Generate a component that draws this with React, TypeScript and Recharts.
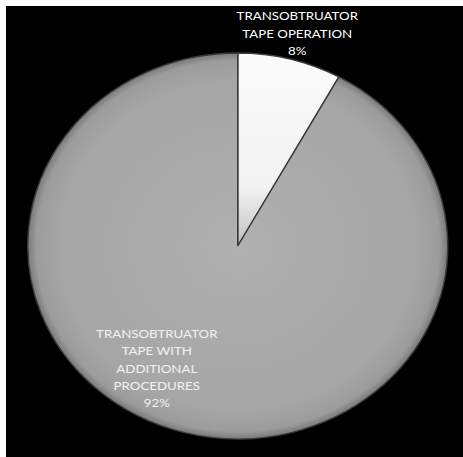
import React from "react";
import { PieChart, Pie, Cell } from "recharts";

const categories = ["TRANSOBTRUATOR TAPE OPERATION", "TRANSOBTRUATOR TAPE WITH ADDITIONAL PROCEDURES"];
const values = [8, 92];
const labelLines = [
  ["TRANSOBTRUATOR", "TAPE OPERATION", "8%"],
  ["TRANSOBTRUATOR", "TAPE WITH", "ADDITIONAL", "PROCEDURES", "92%"],
];
const fills = ["url(#gSmall)", "url(#gBig)"];
const textColors = ["#ffffff", "#f2f2f2"];

const data = categories.map((name, i) => ({ name, value: values[i] }));

const RAD = Math.PI / 180;

const renderLabel = (props: any) => {
  const { cx, cy, midAngle, outerRadius, index } = props;
  let r: number;
  let ang: number;
  if (index === 0) {
    r = outerRadius + 27;
    ang = midAngle;
  } else {
    r = outerRadius * 0.74;
    ang = midAngle - 17;
  }
  const x = cx + r * Math.cos(-ang * RAD);
  const y = cy + r * Math.sin(-ang * RAD);
  const lines = labelLines[index];
  const lh = 17.3;
  const startY = y - ((lines.length - 1) * lh) / 2;
  return (
    <text
      x={x}
      y={startY}
      fill={textColors[index]}
      textAnchor="middle"
      dominantBaseline="central"
      fontFamily="Lato, 'Open Sans', sans-serif"
      fontSize={12.2}
    >
      {lines.map((t, i) => (
        <tspan key={i} x={x} y={startY + i * lh} dominantBaseline="central">
          {t}
        </tspan>
      ))}
    </text>
  );
};

export default function App() {
  const sx = 1.088;
  return (
    <div
      style={{
        position: "absolute",
        left: 6,
        top: 6,
        width: 457,
        height: 451,
        background: "#000",
        overflow: "hidden",
      }}
    >
      <div style={{ transform: `scaleX(${sx})`, transformOrigin: "0 0", width: 420, height: 451 }}>
        <PieChart width={420} height={451} margin={{ top: 0, right: 0, bottom: 0, left: 0 }}>
          <defs>
            <radialGradient id="gBig" gradientUnits="userSpaceOnUse" cx={213} cy={240} r={193}>
              <stop offset="0" stopColor="#b0b0b0" />
              <stop offset="0.85" stopColor="#a6a6a6" />
              <stop offset="0.96" stopColor="#9c9c9c" />
              <stop offset="1" stopColor="#7a7a7a" />
            </radialGradient>
            <linearGradient id="gSmall" x1="0" y1="0" x2="0" y2="1">
              <stop offset="0" stopColor="#fbfbfb" />
              <stop offset="0.7" stopColor="#f2f2f2" />
              <stop offset="1" stopColor="#c0c0c0" />
            </linearGradient>
          </defs>
          <Pie
            data={data}
            dataKey="value"
            nameKey="name"
            cx={213}
            cy={240}
            outerRadius={193}
            startAngle={90}
            endAngle={-270}
            stroke="#3a3a3a"
            strokeWidth={1.3}
            label={renderLabel}
            labelLine={false}
            isAnimationActive={false}
          >
            {data.map((d, i) => (
              <Cell key={d.name} fill={fills[i]} />
            ))}
          </Pie>
        </PieChart>
      </div>
    </div>
  );
}
